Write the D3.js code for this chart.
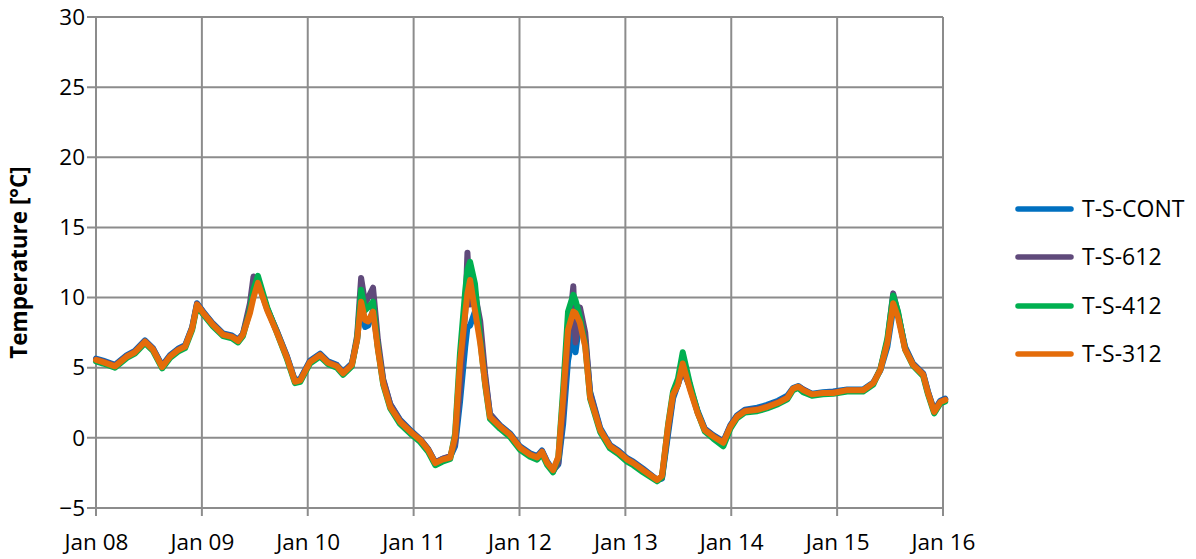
<!DOCTYPE html>
<html>
<head>
<meta charset="utf-8">
<script src="https://cdn.jsdelivr.net/npm/d3@7"></script>
<style>
  html, body { margin: 0; padding: 0; background: #fff; }
  svg { display: block; }
  text { font-family: "Open Sans", "Liberation Sans", sans-serif; fill: #000; }
</style>
</head>
<body>
<svg id="chart" width="1196" height="559"></svg>
<script>
// ---- data (hours since Jan 08 00:00) ----
const hours = [0,1.6,4.3,7,8.8,11.1,12.9,15,16.8,18.6,20.2,21.8,22.9,24.3,26.5,28.8,30.8,32.2,33.3,34.9,35.7,36.7,38.8,41,43.3,45.1,46.3,48.5,50.8,52.6,54.6,56,58,59.2,60.1,61,61.7,62.8,63.9,65.1,66.7,68.9,71.6,73.5,75.3,76.9,78.5,80.3,81.4,82.5,83.7,84.2,84.8,85.9,87.1,88.2,89.3,91.6,93.9,96.1,98.4,100,101.1,102.3,103.6,104.8,105.9,107,108.2,108.7,109.7,110.9,112,114.3,116.5,118.4,120.4,121.8,124,127.2,128.3,129.7,130.8,131.9,133,134.6,136.4,138,139.9,142.2,143.8,145.3,147.1,149.9,152.1,154.6,156.7,158,159.2,160.3,162.3,164.8,167.1,170.3,173.9,176.2,177.8,179.4,180.7,181.8,183.4,185.2,187.5,188.6,190,191.4,192.5];

const tsCont = [5.65,5.5,5.2,5.9,6.2,6.95,6.4,5.15,5.9,6.35,6.6,7.9,9.6,9.0,8.15,7.45,7.3,7.0,7.4,9.2,10.8,11.1,9.2,7.6,5.8,4.1,4.2,5.5,6.0,5.45,5.2,4.7,5.3,7.0,9.9,7.9,8.0,9.1,6.5,4.1,2.4,1.3,0.45,-0.1,-0.8,-1.75,-1.5,-1.35,-0.6,2.5,6.5,7.9,8.0,9.0,7.3,4.3,1.7,0.9,0.3,-0.6,-1.1,-1.3,-0.9,-1.7,-2.3,-1.9,1.0,5.5,7.5,6.1,8.5,7.0,3.3,0.7,-0.5,-0.9,-1.45,-1.7,-2.2,-3.0,-2.9,0.3,2.8,3.8,4.8,3.7,1.9,0.65,0.2,-0.25,0.9,1.6,2.0,2.15,2.35,2.65,3.0,3.55,3.7,3.45,3.15,3.25,3.3,3.45,3.45,3.95,4.8,6.5,9.2,8.8,6.5,5.3,4.6,3.3,1.95,2.65,2.8];

const ts612 = [5.6,5.45,5.15,5.85,6.15,6.9,6.35,5.1,5.85,6.3,6.55,7.85,9.55,8.95,8.1,7.4,7.25,6.95,7.4,9.6,11.5,11.2,9.2,7.6,5.75,4.05,4.15,5.45,5.95,5.4,5.15,4.65,5.25,7.3,11.4,9.6,10.0,10.7,7.0,4.2,2.4,1.25,0.4,-0.1,-0.8,-1.75,-1.5,-1.3,-0.4,3.5,9.0,13.2,9.5,10.3,8.3,4.6,1.7,0.85,0.25,-0.65,-1.15,-1.35,-0.95,-1.75,-2.4,-1.8,1.8,7.0,10.8,6.8,9.3,7.5,3.2,0.6,-0.55,-0.95,-1.5,-1.75,-2.25,-3.0,-2.85,0.6,3.0,3.8,5.0,3.6,1.8,0.6,0.15,-0.3,0.85,1.55,1.95,2.05,2.25,2.55,2.9,3.5,3.65,3.45,3.1,3.2,3.25,3.4,3.4,3.9,4.9,6.9,10.3,8.9,6.4,5.25,4.55,3.25,1.9,2.6,2.75];

const ts412 = [5.45,5.3,5.0,5.7,6.0,6.75,6.2,4.95,5.7,6.15,6.4,7.7,9.4,8.8,7.95,7.25,7.1,6.8,7.25,9.1,10.6,11.55,9.3,7.5,5.6,3.9,4.0,5.3,5.8,5.25,5.0,4.5,5.1,7.1,10.55,9.1,9.3,9.7,6.4,3.8,2.1,1.0,0.2,-0.3,-1.0,-1.95,-1.7,-1.5,0.3,6.0,10.5,12.0,12.55,11.0,7.0,3.8,1.35,0.65,0.05,-0.85,-1.35,-1.55,-1.15,-1.95,-2.45,-1.4,3.5,9.0,10.2,9.8,8.6,6.6,2.8,0.4,-0.75,-1.15,-1.7,-1.95,-2.45,-3.1,-2.8,1.0,3.3,4.2,6.1,3.9,1.8,0.45,-0.05,-0.6,0.65,1.4,1.8,1.9,2.1,2.4,2.75,3.4,3.55,3.25,3.0,3.1,3.15,3.3,3.3,3.8,4.9,7.1,10.15,9.0,6.3,5.15,4.4,3.1,1.75,2.45,2.6];

const ts312 = [5.55,5.4,5.1,5.8,6.1,6.85,6.3,5.05,5.8,6.25,6.5,7.8,9.5,8.9,8.05,7.35,7.2,6.9,7.35,8.9,10.0,11.05,9.1,7.5,5.7,4.0,4.1,5.4,5.9,5.35,5.1,4.6,5.2,7.0,9.7,8.4,8.3,9.0,6.3,3.9,2.2,1.15,0.35,-0.15,-0.85,-1.8,-1.55,-1.4,0.1,5.3,8.9,10.3,11.25,9.1,6.75,3.9,1.5,0.8,0.2,-0.7,-1.2,-1.4,-1.0,-1.8,-2.3,-1.35,2.9,7.7,9.0,8.9,8.2,6.5,2.9,0.55,-0.6,-1.0,-1.55,-1.8,-2.3,-3.0,-2.7,0.9,3.1,3.75,5.3,3.5,1.75,0.55,0.1,-0.35,0.8,1.5,1.9,2.0,2.2,2.5,2.85,3.5,3.65,3.4,3.1,3.2,3.2,3.4,3.4,3.9,4.85,6.8,9.6,8.6,6.3,5.2,4.5,3.2,1.85,2.55,2.7];

const seriesNames = ["T-S-CONT", "T-S-612", "T-S-412", "T-S-312"];
const seriesColors = ["#0070C0", "#604A7B", "#00B050", "#E46C0A"];
const seriesValues = [tsCont, ts612, ts412, ts312];

const xTickHours = [0, 24, 48, 72, 96, 120, 144, 168, 192];
const xTickLabels = ["Jan 08", "Jan 09", "Jan 10", "Jan 11", "Jan 12", "Jan 13", "Jan 14", "Jan 15", "Jan 16"];
const yTicks = [-5, 0, 5, 10, 15, 20, 25, 30];
const yTitle = "Temperature [°C]";

// ---- layout ----
const svg = d3.select("#chart");
const plotLeft = 96, plotRight = 943, plotTop = 17, plotBottom = 508;
const x = d3.scaleLinear().domain([0, 192]).range([plotLeft, plotRight]);
const y = d3.scaleLinear().domain([-5, 30]).range([plotBottom, plotTop]);
const gridColor = "#8c8c8c";
const fontSize = "22.5px";

// grid
const grid = svg.append("g");
grid.selectAll("line.h").data(yTicks).join("line")
  .attr("class", "h")
  .attr("x1", plotLeft - 9).attr("x2", plotRight)
  .attr("y1", d => y(d)).attr("y2", d => y(d))
  .attr("stroke", gridColor).attr("stroke-width", 2);
grid.selectAll("line.v").data(xTickHours).join("line")
  .attr("class", "v")
  .attr("x1", d => x(d)).attr("x2", d => x(d))
  .attr("y1", plotTop).attr("y2", plotBottom + 8)
  .attr("stroke", gridColor).attr("stroke-width", 2);

// y axis labels
const yAxis = d3.axisLeft(y).tickValues(yTicks).tickSize(0).tickPadding(0).tickFormat(d3.format("d"));
const gy = svg.append("g").attr("transform", `translate(${plotLeft - 11},0)`).call(yAxis);
gy.select(".domain").remove();
gy.selectAll("text").style("font-size", fontSize).style("font-family", "'Open Sans', sans-serif").attr("fill", "#000");

// x axis labels
const xAxis = d3.axisBottom(x).tickValues(xTickHours).tickSize(0).tickPadding(0)
  .tickFormat((d, i) => xTickLabels[i]);
const gx = svg.append("g").attr("transform", `translate(0,${plotBottom + 26})`).call(xAxis);
gx.select(".domain").remove();
gx.selectAll("text").style("font-size", fontSize).style("font-family", "'Open Sans', sans-serif").attr("fill", "#000");

// y title
svg.append("text")
  .attr("transform", `translate(27,${(plotTop + plotBottom) / 2}) rotate(-90)`)
  .attr("text-anchor", "middle")
  .style("font-size", "22.5px").style("font-weight", "bold")
  .text(yTitle);

// lines
const line = d3.line().x((d, i) => x(hours[i])).y(d => y(d)).curve(d3.curveLinear);
seriesValues.forEach((vals, k) => {
  svg.append("path").datum(vals)
    .attr("d", line)
    .attr("fill", "none")
    .attr("stroke", seriesColors[k])
    .attr("stroke-width", 6)
    .attr("stroke-linejoin", "round")
    .attr("stroke-linecap", "round");
});

// legend
const legY = [209, 257, 306, 354];
const leg = svg.append("g");
seriesNames.forEach((name, k) => {
  leg.append("line")
    .attr("x1", 1018).attr("x2", 1071)
    .attr("y1", legY[k]).attr("y2", legY[k])
    .attr("stroke", seriesColors[k]).attr("stroke-width", 5.5)
    .attr("stroke-linecap", "round");
  leg.append("text")
    .attr("x", 1082).attr("y", legY[k]).attr("dy", "0.35em")
    .style("font-size", "23px")
    .text(name);
});
</script>
</body>
</html>
